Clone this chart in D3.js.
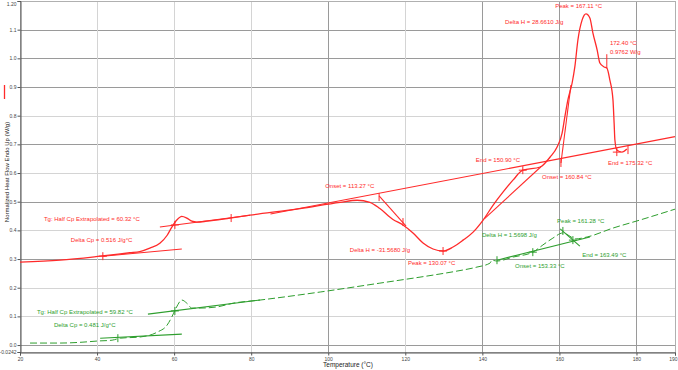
<!DOCTYPE html>
<html>
<head>
<meta charset="utf-8">
<script src="https://cdn.jsdelivr.net/npm/d3@7"></script>
<style>
  body { margin: 0; background: #fff; }
  svg { display: block; font-family: "Liberation Sans", Arial, sans-serif; }
</style>
</head>
<body>
<script>
// red scan (first heating)
var redTemp = [20, 30.4, 40.8, 48.5, 51.1, 53.7, 56.3, 58.2, 59.4, 60.7, 62.0, 63.3, 64.6, 65.9, 68.5, 74.5, 79.7, 92.7, 103.1,
  107.5, 110.8, 113.4, 116.8, 119.4, 122.0, 124.6, 127.2, 129.8, 132.4, 135.0, 137.6, 140.2, 142.8, 145.4, 148.0, 150.5,
  155.0, 157.6, 159.4, 160.7, 161.4, 162.2, 163.3, 164.0, 164.8, 165.9, 166.9, 167.9, 168.7, 169.8, 170.5, 171.6, 172.3,
  173.1, 173.9, 174.2, 174.4, 174.9, 176.2, 177.5];
var redFlow = [0.289, 0.296, 0.310, 0.322, 0.326, 0.338, 0.355, 0.383, 0.411, 0.436, 0.449, 0.443, 0.432, 0.429, 0.432, 0.443, 0.453, 0.476, 0.498,
  0.505, 0.498, 0.476, 0.438, 0.419, 0.391, 0.356, 0.335, 0.328, 0.342, 0.366, 0.394, 0.436, 0.488, 0.534, 0.576, 0.610,
  0.621, 0.656, 0.691, 0.739, 0.795, 0.855, 0.914, 0.970, 1.064, 1.134, 1.155, 1.141, 1.088, 1.029, 0.984, 0.970, 0.966,
  0.924, 0.855, 0.774, 0.715, 0.680, 0.673, 0.684];

// green scan
var greenTemp = [22.6, 30.4, 36.1, 40.0, 43.9, 46.0, 51.1, 55.6, 58.2, 59.4, 60.5, 62.0, 63.3, 64.6, 66.7, 71.1, 75.3, 82.3, 97.9,
  113.4, 120.4, 127.2, 133.4, 138.6, 142.0, 142.5, 143.8, 148.0, 153.1, 155.7, 158.3, 160.9, 162.7, 164.0, 167.2, 173.9, 180.9, 190];
var greenFlow = [0.007, 0.007, 0.010, 0.014, 0.017, 0.024, 0.028, 0.045, 0.070, 0.098, 0.129, 0.157, 0.146, 0.129, 0.129, 0.133, 0.146, 0.157, 0.185,
  0.216, 0.230, 0.244, 0.258, 0.272, 0.286, 0.296, 0.293, 0.307, 0.324, 0.349, 0.373, 0.391, 0.380, 0.370, 0.377, 0.408, 0.436, 0.474];

var xTicks = [20, 40, 60, 80, 100, 120, 140, 160, 180, 190];
var yTicks = [0.0, 0.1, 0.2, 0.3, 0.4, 0.5, 0.6, 0.7, 0.8, 0.9, 1.0, 1.1, 1.2];
var yTickLabels = ["0.0", "0.1", "0.2", "0.3", "0.4", "0.5", "0.6", "0.7", "0.8", "0.9", "1.0", "1.1", "1.20"];
var yMin = -0.0242;

// analysis lines [T1, v1, T2, v2]
var redLines = [[41.5, 0.310, 62.0, 0.335], [56.3, 0.412, 79.7, 0.453], [85, 0.457, 190, 0.727],
  [113.2, 0.520, 120.2, 0.415], [140.5, 0.440, 155.2, 0.622], [160.4, 0.635, 163.0, 0.907]];
var greenLines = [[40.8, 0.024, 62.0, 0.038], [53.2, 0.108, 82.3, 0.157], [143.8, 0.296, 167.9, 0.377],
  [160.2, 0.405, 165.3, 0.345]];

// markers [T, v, kind]
var redMarks = [[41.5, 0.310, "x"], [60.2, 0.419, "x"], [74.8, 0.443, "t"], [113.2, 0.516, "t"], [119.4, 0.429, "t"],
  [129.8, 0.328, "x"], [150.5, 0.610, "x"], [160.4, 0.635, "t"], [172.3, 0.99, "T"], [174.9, 0.673, "x"], [177.8, 0.680, "t"]];
var greenMarks = [[45.4, 0.024, "t"], [60.2, 0.119, "x"], [143.8, 0.296, "t"], [153.1, 0.324, "x"], [160.9, 0.398, "t"], [163.5, 0.366, "x"]];

// annotation texts [T, v, text]
var redLabels = [[26.2, 0.439, "Tg: Half Cp Extrapolated = 60.32 °C"], [33.2, 0.366, "Delta Cp = 0.516 J/g°C"],
  [99.2, 0.555, "Onset = 113.27 °C"], [105.6, 0.331, "Delta H = -31.5680 J/g"], [120.7, 0.286, "Peak = 130.07 °C"],
  [138.3, 0.645, "End = 150.90 °C"], [145.9, 1.127, "Delta H = 28.6610 J/g"], [158.9, 1.182, "Peak = 167.11 °C"],
  [173.1, 1.053, "172.40 °C"], [173.1, 1.022, "0.9762 W/g"], [172.6, 0.635, "End = 175.32 °C"],
  [155.5, 0.586, "Onset = 160.84 °C"]];
var greenLabels = [[24.4, 0.115, "Tg: Half Cp Extrapolated = 59.82 °C"], [28.8, 0.070, "Delta Cp = 0.481 J/g°C"],
  [139.9, 0.384, "Delta H = 1.5698 J/g"], [159.4, 0.432, "Peak = 161.28 °C"], [165.9, 0.314, "End = 163.49 °C"],
  [148.5, 0.276, "Onset = 153.33 °C"]];

var red = "#ff2a2a", green = "#2e9e2e";
var w = 678, h = 370;

var x = d3.scaleLinear().domain([20, 190]).range([20, 675]);
var y = d3.scaleLinear().domain([yMin, 1.2]).range([352, 1]);

var svg = d3.select("body").append("svg")
  .attr("width", w)
  .attr("height", h);

// grid - some lines darker like the screenshot
var darkY = [0.0, 0.3, 0.5, 0.7, 0.9, 1.0, 1.1];
svg.append("g").selectAll("line")
  .data(yTicks.slice(0, -1))
  .enter().append("line")
  .attr("x1", x(20)).attr("x2", x(190))
  .attr("y1", function(d) { return Math.round(y(d)) + 0.5; })
  .attr("y2", function(d) { return Math.round(y(d)) + 0.5; })
  .style("stroke", function(d) { return darkY.indexOf(d) >= 0 ? "#9a9a9a" : "#d4d4d4"; });

var darkX = [100, 140, 160, 180];
svg.append("g").selectAll("line")
  .data(xTicks.slice(1, -1))
  .enter().append("line")
  .attr("y1", y(1.2)).attr("y2", y(yMin))
  .attr("x1", function(d) { return Math.round(x(d)) + 0.5; })
  .attr("x2", function(d) { return Math.round(x(d)) + 0.5; })
  .style("stroke", function(d) { return darkX.indexOf(d) >= 0 ? "#9a9a9a" : "#d4d4d4"; });

// frame
svg.append("rect")
  .attr("x", x(20) + 0.5).attr("y", y(1.2) + 0.5)
  .attr("width", x(190) - x(20)).attr("height", y(yMin) - y(1.2))
  .style("fill", "none").style("stroke", "#b0b0b0");

// axes
var xAxis = d3.axisBottom(x).tickValues(xTicks).tickSize(3).tickFormat(d3.format("d"));
var gx = svg.append("g").attr("transform", "translate(0," + (Math.round(y(yMin)) + 0.5) + ")").call(xAxis);
var yAxis = d3.axisLeft(y).tickValues(yTicks.concat([yMin])).tickSize(3)
  .tickFormat(function(d) { return d === yMin ? "-0.0242" : yTickLabels[yTicks.indexOf(d)]; });
var gy = svg.append("g").attr("transform", "translate(" + (Math.round(x(20)) + 0.5) + ",0)").call(yAxis);
[gx, gy].forEach(function(g) {
  g.select(".domain").style("stroke", "#555");
  g.selectAll(".tick line").style("stroke", "#555");
  g.selectAll("text").style("font-size", "5px").style("fill", "#444").style("font-family", "Liberation Sans, Arial");
});
gy.selectAll("text").attr("x", -4);
gx.selectAll("text").attr("y", 5);
// keep the end labels inside the window
gx.selectAll(".tick").filter(function(d) { return d === 190; }).select("text").attr("text-anchor", "end").attr("x", 2);
gy.selectAll(".tick").filter(function(d) { return d === 1.2; }).select("text").attr("dy", "0.9em");

svg.append("text")
  .attr("x", 348).attr("y", 367)
  .attr("text-anchor", "middle")
  .style("font-size", "6.5px").style("fill", "#222")
  .text("Temperature (°C)");

svg.append("text")
  .attr("transform", "translate(9,172) rotate(-90)")
  .attr("text-anchor", "middle")
  .style("font-size", "6px").style("fill", "#222")
  .text("Normalized Heat Flow Endo Up (W/g)");

// legend stub
svg.append("line")
  .attr("x1", 4.5).attr("x2", 4.5).attr("y1", 85).attr("y2", 99)
  .style("stroke", red).style("stroke-width", 1.3);

var line = d3.line()
  .x(function(d) { return x(d[0]); })
  .y(function(d) { return y(d[1]); })
  .curve(d3.curveMonotoneX);

function drawScan(temps, flows, color, lines, marks, labels, dashed, width) {
  var g = svg.append("g");
  g.selectAll(".seg")
    .data(lines)
    .enter().append("line")
    .attr("x1", function(d) { return x(d[0]); })
    .attr("y1", function(d) { return y(d[1]); })
    .attr("x2", function(d) { return x(d[2]); })
    .attr("y2", function(d) { return y(d[3]); })
    .style("stroke", color).style("stroke-width", 1.1);

  g.append("path")
    .datum(temps.map(function(t, i) { return [t, flows[i]]; }))
    .attr("d", line)
    .style("fill", "none")
    .style("stroke", color)
    .style("stroke-width", width)
    .style("stroke-dasharray", dashed ? "7,3" : null);

  marks.forEach(function(m) {
    var px = x(m[0]), py = y(m[1]);
    var len = m[2] === "T" ? 7 : 4;
    g.append("line")
      .attr("x1", px).attr("x2", px).attr("y1", py - len).attr("y2", py + len)
      .style("stroke", color).style("stroke-width", 1);
    if (m[2] === "x") {
      g.append("line")
        .attr("x1", px - 4).attr("x2", px + 4).attr("y1", py).attr("y2", py)
        .style("stroke", color).style("stroke-width", 1);
    }
  });

  g.selectAll("text")
    .data(labels)
    .enter().append("text")
    .attr("x", function(d) { return x(d[0]); })
    .attr("y", function(d) { return y(d[1]) + 2; })
    .style("font-size", "6px")
    .style("fill", color)
    .text(function(d) { return d[2]; });
}

drawScan(greenTemp, greenFlow, green, greenLines, greenMarks, greenLabels, true, 1);
drawScan(redTemp, redFlow, red, redLines, redMarks, redLabels, false, 1.3);
</script>
</body>
</html>
